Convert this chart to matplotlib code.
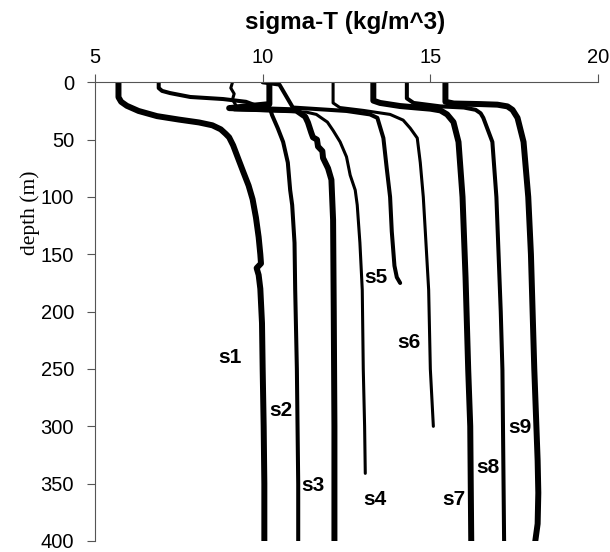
import matplotlib
matplotlib.use("Agg")
import matplotlib.pyplot as plt

# ---- data (sigma-T, depth) per station ----
s1_x = [5.7, 5.7, 5.78, 5.95, 6.3, 6.85, 7.5, 8.1, 8.5, 8.75, 8.9, 9.0, 9.12, 9.25, 9.42, 9.58, 9.7, 9.8, 9.88, 9.93, 9.95, 9.82, 9.88, 9.93, 9.98, 10.0, 10.03, 10.05, 10.05]
s1_y = [0, 13, 17, 20.5, 25, 29.5, 32.5, 35, 37.5, 41, 45, 48, 55, 65, 78, 90, 102, 118, 135, 150, 158, 162, 168, 180, 210, 250, 300, 350, 400]

s2_x = [6.9, 6.9, 7.0, 7.24, 7.84, 8.82, 9.5, 9.84, 10.1, 10.22, 10.28, 10.45, 10.61, 10.75, 10.82, 10.88, 10.95, 10.97, 11.02, 11.04, 11.06, 11.06]
s2_y = [0, 5, 7.5, 9.4, 12.8, 14.6, 17, 20.7, 21.8, 23, 28.6, 40, 52, 70, 94, 107, 140, 181, 250, 300, 350, 400]

s3_x = [10.2, 10.2, 9.0, 11.0, 11.27, 11.35, 11.45, 11.5, 11.62, 11.65, 11.78, 11.8, 11.95, 12.05, 12.1, 12.12, 12.14, 12.14]
s3_y = [0, 19, 22.5, 24.5, 30, 35, 44, 48, 50, 56, 60, 66, 75, 85, 120, 200, 300, 400]

s4_x = [9.1, 9.05, 9.15, 9.1, 9.2, 9.15, 10.5, 11.3, 11.6, 11.93, 12.1, 12.31, 12.5, 12.61, 12.76, 12.82, 12.9, 12.97, 13.0, 13.04, 13.06]
s4_y = [0, 5, 10, 15, 20, 24, 25, 26, 28, 34.7, 42, 52, 65, 81, 94, 107, 140, 181, 250, 300, 341]

s5_x = [10.0, 10.5, 10.9, 12.5, 13.2, 13.42, 13.6, 13.7, 13.8, 13.85, 13.93, 14.0, 14.1]
s5_y = [0, 2, 22, 25, 28, 31, 48.6, 75, 100, 130, 160, 170, 175]

s6_x = [12.1, 12.1, 12.3, 13.0, 13.8, 14.19, 14.4, 14.61, 14.7, 14.79, 14.85, 14.95, 15.0, 15.09]
s6_y = [0, 18, 22, 24.5, 28, 33, 40, 48.6, 70, 100, 130, 181, 250, 300]

s7_x = [13.3, 13.3, 13.5, 14.1, 14.6, 15.0, 15.3, 15.5, 15.69, 15.84, 15.96, 16.05, 16.13, 16.19, 16.22]
s7_y = [0, 16, 18, 20.7, 22, 23, 24.5, 28, 34.7, 52, 100, 170, 251, 300, 400]

s8_x = [14.3, 14.3, 14.5, 15.3, 16.0, 16.35, 16.5, 16.58, 16.85, 16.97, 17.1, 17.15, 17.2]
s8_y = [0, 14, 18, 21, 22, 24, 27, 31, 52, 100, 200, 251, 400]

s9_x = [15.45, 15.45, 15.7, 16.5, 17.0, 17.3, 17.45, 17.6, 17.78, 17.92, 18.0, 18.1, 18.2, 18.22, 18.2, 18.13]
s9_y = [0, 17, 18.5, 19, 19.5, 21, 24, 31, 52, 100, 150, 250, 330, 358, 385, 400]

station_labels = ["s1", "s2", "s3", "s4", "s5", "s6", "s7", "s8", "s9"]
label_x = [9.03, 10.55, 11.51, 13.36, 13.39, 14.37, 15.69, 16.73, 17.66]
label_y = [239.6, 286.6, 352, 363.4, 169.8, 226.5, 363.4, 335.6, 301.4]

x_ticks = [5, 10, 15, 20]
y_ticks = [0, 50, 100, 150, 200, 250, 300, 350, 400]

profiles = [(s1_x, s1_y), (s2_x, s2_y), (s3_x, s3_y), (s4_x, s4_y), (s5_x, s5_y),
            (s6_x, s6_y), (s7_x, s7_y), (s8_x, s8_y), (s9_x, s9_y)]
widths = [4.3, 2.9, 4.3, 2.2, 2.9, 2.2, 4.3, 2.9, 4.3]

W, H = 610, 552
fig = plt.figure(figsize=(W / 100, H / 100), dpi=100)
fig.patch.set_facecolor("white")
ax = fig.add_axes([95 / W, 1 - 541 / H, (598 - 95) / W, (541 - 82.3) / H])

for (xs, ys), lw in zip(profiles, widths):
    ax.plot(xs, ys, color="black", lw=lw, solid_capstyle="round", solid_joinstyle="round")

for t, x, y in zip(station_labels, label_x, label_y):
    ax.text(x, y, t, ha="center", va="center", fontsize=15, fontweight="bold",
            family="Liberation Sans")

ax.set_xlim(5, 20)
ax.set_ylim(400, 0)
ax.xaxis.tick_top()
ax.set_xticks(x_ticks)
ax.set_yticks(y_ticks)
ax.set_xticklabels([str(v) for v in x_ticks], family="Liberation Sans", fontsize=14.5)
ax.set_yticklabels([str(v) for v in y_ticks], family="Liberation Sans", fontsize=14.5)
ax.tick_params(axis="x", direction="out", length=6, width=0.8, pad=5, color="#555555")
ax.tick_params(axis="y", direction="out", length=6, width=0.8, pad=9, color="#555555")
for side in ["right", "bottom"]:
    ax.spines[side].set_visible(False)
for side in ["top", "left"]:
    ax.spines[side].set_color("#555555")
    ax.spines[side].set_linewidth(0.8)

fig.text(345 / W, 1 - 23 / H, "sigma-T (kg/m^3)", ha="center", va="center",
         fontsize=17.5, fontweight="bold", family="Liberation Sans")
fig.text(30 / W, 1 - 213 / H, "depth (m)", ha="center", va="center", rotation=90,
         fontsize=15.5, family="Liberation Serif")

fig.savefig("out.png", dpi=100, facecolor="white")
